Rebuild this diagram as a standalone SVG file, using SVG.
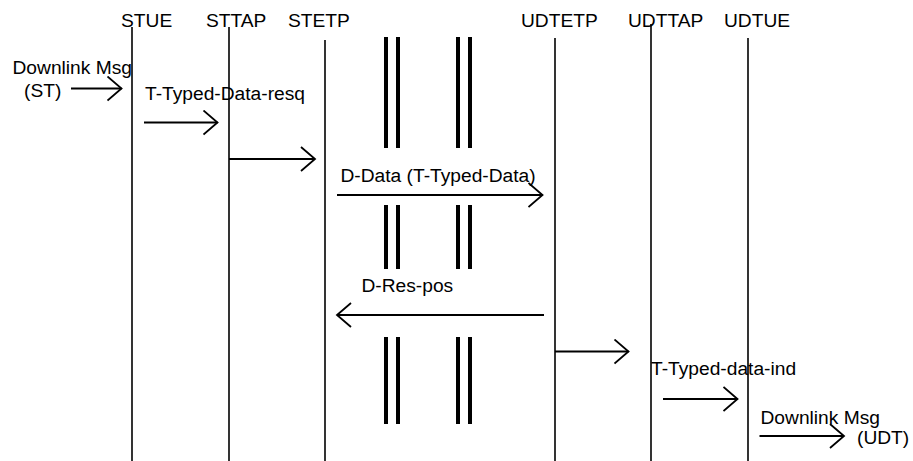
<svg xmlns="http://www.w3.org/2000/svg" width="913" height="461" viewBox="0 0 913 461">
<style>
text{font-family:"Liberation Sans",Arial,sans-serif;font-size:19.2px;fill:#000}
.life{stroke:#000;stroke-width:1.6;fill:none}
.brk{stroke:#000;stroke-width:4;fill:none}
.msg{stroke:#000;stroke-width:1.8;fill:none;marker-end:url(#ah)}
</style>
<defs>
<marker id="ah" markerUnits="userSpaceOnUse" markerWidth="20" markerHeight="30" refX="15" refY="13" orient="auto" viewBox="0 0 20 30">
<path d="M1,1 L15,13 L1,25" fill="none" stroke="#000" stroke-width="1.8"/>
</marker>
</defs>
<rect width="913" height="461" fill="#fff"/>
<g id="STUE"><line class="life" x1="132" y1="27" x2="132" y2="461"/><text x="121" y="27">STUE</text></g>
<g id="STTAP"><line class="life" x1="229" y1="27" x2="229" y2="461"/><text x="206" y="27">STTAP</text></g>
<g id="STETP"><line class="life" x1="325" y1="40" x2="325" y2="461"/><text x="288" y="27">STETP</text></g>
<g id="UDTETP"><line class="life" x1="555" y1="38" x2="555" y2="461"/><text x="521" y="27">UDTETP</text></g>
<g id="UDTTAP"><line class="life" x1="651" y1="24" x2="651" y2="461"/><text x="628" y="27">UDTTAP</text></g>
<g id="UDTUE"><line class="life" x1="748" y1="38" x2="748" y2="461"/><text x="724" y="27">UDTUE</text></g>
<g id="breaks">
<line class="brk" x1="386" y1="37" x2="386" y2="148"/><line class="brk" x1="398" y1="37" x2="398" y2="148"/>
<line class="brk" x1="458" y1="37" x2="458" y2="148"/><line class="brk" x1="470" y1="37" x2="470" y2="148"/>
<line class="brk" x1="386" y1="205" x2="386" y2="269"/><line class="brk" x1="398" y1="205" x2="398" y2="269"/>
<line class="brk" x1="458" y1="205" x2="458" y2="269"/><line class="brk" x1="470" y1="205" x2="470" y2="269"/>
<line class="brk" x1="386" y1="337" x2="386" y2="424"/><line class="brk" x1="398" y1="337" x2="398" y2="424"/>
<line class="brk" x1="458" y1="337" x2="458" y2="424"/><line class="brk" x1="470" y1="337" x2="470" y2="424"/>
</g>
<g id="connectors">
<line class="msg" x1="71" y1="88.5" x2="121.5" y2="88.5"/>
<text x="12.5" y="74">Downlink Msg</text>
<text x="24" y="96.5">(ST)</text>
<text x="145" y="100">T-Typed-Data-resq</text>
<line class="msg" x1="144" y1="122.5" x2="217.5" y2="122.5"/>
<line class="msg" x1="229" y1="159" x2="315" y2="159"/>
<text x="340.5" y="181.5">D-Data (T-Typed-Data)</text>
<line class="msg" x1="337" y1="195" x2="542.5" y2="195"/>
<text x="361.5" y="291.5">D-Res-pos</text>
<line class="msg" x1="544" y1="315" x2="337" y2="315"/>
<line class="msg" x1="555" y1="351.5" x2="628.5" y2="351.5"/>
<text x="651" y="374.5">T-Typed-data-ind</text>
<line class="msg" x1="663" y1="399" x2="737.5" y2="399"/>
<text x="760.5" y="424">Downlink Msg</text>
<text x="857" y="444">(UDT)</text>
<line class="msg" x1="759.5" y1="436" x2="844" y2="436"/>
</g>
</svg>
